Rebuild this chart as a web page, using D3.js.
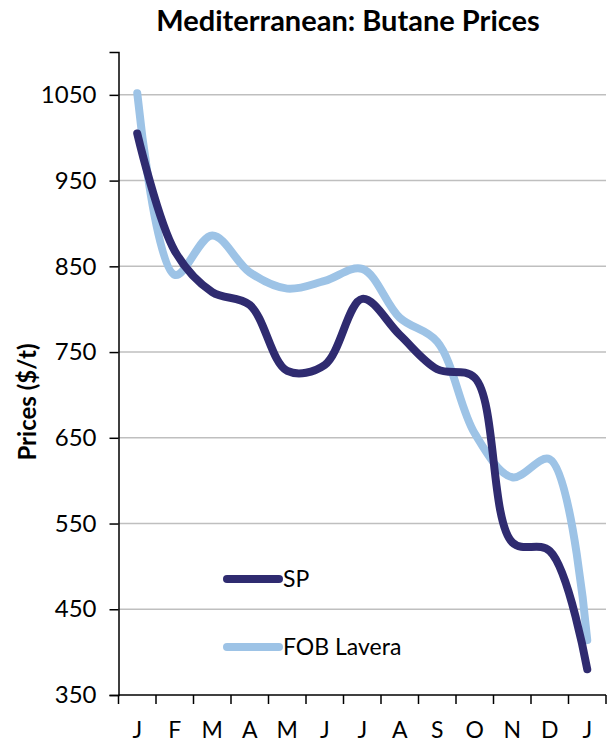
<!DOCTYPE html>
<html>
<head>
<meta charset="utf-8">
<script src="https://cdn.jsdelivr.net/npm/d3@7"></script>
<style>
  html, body { margin: 0; padding: 0; background: #fff; }
  svg { display: block; font-family: Lato, "Open Sans", sans-serif; }
</style>
</head>
<body>
<svg id="chart" width="608" height="744"></svg>
<script>
// Monthly butane prices, Mediterranean ($/t)
const months = ["J", "F", "M", "A", "M", "J", "J", "A", "S", "O", "N", "D", "J"];
const spPrices = [1005, 868, 820, 805, 728, 735, 812, 770, 730, 720, 528, 518, 380];
const fobLaveraPrices = [1052, 840, 886, 843, 824, 833, 847, 790, 762, 655, 604, 625, 414];
const yTicks = [350, 450, 550, 650, 750, 850, 950, 1050];

const seriesNames = ["SP", "FOB Lavera"];
const seriesColors = ["#2f2b70", "#9dc3e6"];

const svg = d3.select("#chart");
const plot = { left: 118.5, right: 606, top: 52, bottom: 695 };

const x = d3.scaleBand()
  .domain(months.map((_, i) => i))
  .range([plot.left, plot.right]);

const y = d3.scaleLinear()
  .domain([350, 1100])
  .range([plot.bottom, plot.top]);

// Title
svg.append("text")
  .attr("x", 348)
  .attr("y", 31)
  .attr("text-anchor", "middle")
  .attr("font-size", 29)
  .attr("font-weight", "bold")
  .attr("fill", "#000")
  .text("Mediterranean: Butane Prices");

// Horizontal gridlines
svg.append("g")
  .selectAll("line")
  .data(yTicks.filter(t => t > 350))
  .join("line")
  .attr("x1", plot.left)
  .attr("x2", plot.right)
  .attr("y1", d => y(d))
  .attr("y2", d => y(d))
  .attr("stroke", "#bfbfbf")
  .attr("stroke-width", 1.5);

// Y axis
const yAxis = svg.append("g")
  .attr("transform", `translate(${plot.left},0)`)
  .call(d3.axisLeft(y).tickValues(yTicks).tickFormat(d3.format("d")).tickSize(9).tickPadding(13));
yAxis.select(".domain").attr("stroke", "#000").attr("stroke-width", 1.5);
yAxis.selectAll(".tick line").attr("stroke", "#000").attr("stroke-width", 1.5);
yAxis.selectAll(".tick text")
  .attr("font-size", 24)
  .attr("font-family", "Lato, sans-serif")
  .attr("fill", "#000");

// X axis: ticks on band boundaries, labels centred in each band
const xAxis = svg.append("g")
  .attr("transform", `translate(0,${plot.bottom})`)
  .call(d3.axisBottom(x).tickFormat(i => months[i]).tickSize(0).tickPadding(27));
xAxis.select(".domain").remove();
xAxis.selectAll(".tick text")
  .attr("font-size", 23)
  .attr("font-family", "Lato, sans-serif")
  .attr("fill", "#000");
xAxis.append("line")
  .attr("x1", plot.left).attr("x2", plot.right)
  .attr("y1", 0).attr("y2", 0)
  .attr("stroke", "#000").attr("stroke-width", 1.5);
xAxis.append("g")
  .selectAll("line")
  .data(d3.range(months.length + 1))
  .join("line")
  .attr("x1", i => plot.left + i * x.step())
  .attr("x2", i => plot.left + i * x.step())
  .attr("y1", 0)
  .attr("y2", 9)
  .attr("stroke", "#000")
  .attr("stroke-width", 1.5);

// Y axis title
svg.append("text")
  .attr("transform", `translate(36,402) rotate(-90)`)
  .attr("text-anchor", "middle")
  .attr("font-size", 24)
  .attr("font-weight", "bold")
  .attr("fill", "#000")
  .text("Prices ($/t)");

// Smoothed price lines
const line = d3.line()
  .x((d, i) => x(i) + x.bandwidth() / 2)
  .y(d => y(d))
  .curve(d3.curveCatmullRom.alpha(0.5));

svg.append("path")
  .datum(fobLaveraPrices)
  .attr("d", line)
  .attr("fill", "none")
  .attr("stroke", seriesColors[1])
  .attr("stroke-width", 8)
  .attr("stroke-linecap", "round")
  .attr("stroke-linejoin", "round");

svg.append("path")
  .datum(spPrices)
  .attr("d", line)
  .attr("fill", "none")
  .attr("stroke", seriesColors[0])
  .attr("stroke-width", 8)
  .attr("stroke-linecap", "round")
  .attr("stroke-linejoin", "round");

// Legend
const legend = svg.append("g").attr("transform", "translate(227,579)");
const items = legend.selectAll("g")
  .data(seriesNames)
  .join("g")
  .attr("transform", (d, i) => `translate(0,${i * 68})`);
items.append("line")
  .attr("x1", 0).attr("x2", 52)
  .attr("y1", 0).attr("y2", 0)
  .attr("stroke", (d, i) => seriesColors[i])
  .attr("stroke-width", 8)
  .attr("stroke-linecap", "round");
items.append("text")
  .attr("x", 56)
  .attr("y", 0)
  .attr("dy", "0.35em")
  .attr("font-size", 23)
  .attr("fill", "#000")
  .text(d => d);
</script>
</body>
</html>
